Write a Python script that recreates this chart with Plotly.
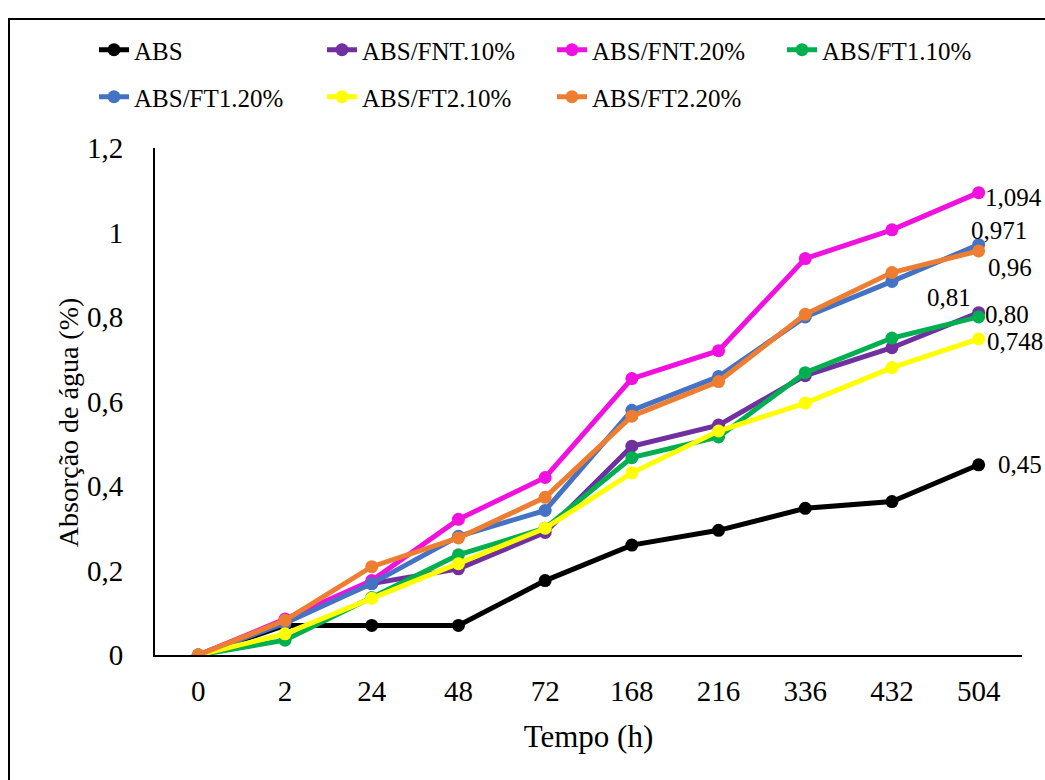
import plotly.graph_objects as go

categories = ["0", "2", "24", "48", "72", "168", "216", "336", "432", "504"]

series_names = ["ABS", "ABS/FNT.10%", "ABS/FNT.20%", "ABS/FT1.10%",
                "ABS/FT1.20%", "ABS/FT2.10%", "ABS/FT2.20%"]

abs_vals   = [0, 0.07, 0.07, 0.07, 0.176, 0.26, 0.295, 0.347, 0.363, 0.45]
fnt10_vals = [0, 0.08, 0.169, 0.204, 0.29, 0.494, 0.544, 0.661, 0.727, 0.81]
fnt20_vals = [0, 0.085, 0.176, 0.321, 0.42, 0.654, 0.72, 0.938, 1.006, 1.094]
ft110_vals = [0, 0.035, 0.136, 0.237, 0.30, 0.467, 0.516, 0.668, 0.75, 0.80]
ft120_vals = [0, 0.075, 0.169, 0.281, 0.342, 0.579, 0.659, 0.80, 0.884, 0.971]
ft210_vals = [0, 0.05, 0.134, 0.216, 0.30, 0.431, 0.53, 0.596, 0.68, 0.748]
ft220_vals = [0, 0.082, 0.209, 0.277, 0.373, 0.565, 0.647, 0.806, 0.905, 0.956]

end_labels = ["0,45", "0,81", "1,094", "0,80", "0,971", "0,748", "0,96"]

colors = ["#000000", "#7030A0", "#F011E0", "#00B050", "#4472C4", "#FFFF00", "#ED7D31"]

all_vals = [abs_vals, fnt10_vals, fnt20_vals, ft110_vals, ft120_vals, ft210_vals, ft220_vals]

# label offsets (px) relative to the last point
label_shifts = [(41, 0), (-30, 15), (35, -5), (28, 2), (20, 14), (36, -3), (31, -17)]

# legend entry positions (px, top-left origin): text start x, row centre y
legend_pos = [(137, 50), (365, 50), (595, 50), (825, 50),
              (137, 97), (365, 97), (595, 97)]

FONT = "Liberation Serif"
W, H = 1045, 780
L, R, T, B = 155, 23, 143, 125
PW, PH = W - L - R, H - T - B

fig = go.Figure()
last_idx = len(categories) - 1
layout_legends = {}
for i, (name, vals, col) in enumerate(zip(series_names, all_vals, colors)):
    lname = "legend" if i == 0 else f"legend{i + 1}"
    fig.add_trace(go.Scatter(
        x=categories, y=vals, name=name, mode="lines+markers",
        line=dict(color=col, width=5),
        marker=dict(color=col, size=13),
        legend=lname,
    ))
    tx, ty = legend_pos[i]
    layout_legends[lname] = dict(
        orientation="h", xref="container", yref="container",
        x=(tx - 43) / W, y=1 - ty / H, xanchor="left", yanchor="middle",
        font=dict(family=FONT, size=25, color="#000000"),
        bgcolor="rgba(0,0,0,0)", itemclick=False, itemdoubleclick=False,
    )
    dx, dy = label_shifts[i]
    fig.add_annotation(x=last_idx, y=vals[-1], xref="x", yref="y",
                       text=end_labels[i], showarrow=False,
                       xshift=dx, yshift=dy,
                       font=dict(family=FONT, size=25, color="#000000"))

# y-axis title (placed like the reference, slightly below the axis centre)
fig.add_annotation(xref="paper", yref="paper",
                   x=(68 - L) / PW, y=(655 - 420) / PH,
                   text="Absorção de água (%)", textangle=-90, showarrow=False,
                   xanchor="center", yanchor="middle",
                   font=dict(family=FONT, size=28, color="#000000"))

fig.update_layout(
    width=W, height=H,
    margin=dict(l=L, r=R, t=T, b=B),
    paper_bgcolor="white", plot_bgcolor="white",
    separators=", ",
    font=dict(family=FONT, size=29, color="#000000"),
    showlegend=True,
    xaxis=dict(
        type="category", categoryorder="array", categoryarray=categories,
        range=[-0.5, 9.5],
        showline=True, linecolor="#000000", linewidth=2,
        showgrid=False, zeroline=False, ticks="",
        tickfont=dict(family=FONT, size=29, color="#000000"),
        ticklabelstandoff=9,
        title=dict(text="Tempo (h)", standoff=20,
                   font=dict(family=FONT, size=31, color="#000000")),
    ),
    yaxis=dict(
        range=[0, 1.2], dtick=0.2, tick0=0,
        showline=True, linecolor="#000000", linewidth=2,
        showgrid=False, zeroline=False, ticks="",
        tickfont=dict(family=FONT, size=29, color="#000000"),
        ticklabelstandoff=24,
    ),
    **layout_legends,
)

# outer frame around the whole chart
fig.add_shape(type="rect", xref="paper", yref="paper",
              x0=(9 - L) / PW, x1=(1060 - L) / PW,
              y0=(655 - 800) / PH, y1=1 + (T - 13) / PH,
              line=dict(color="#000000", width=2), fillcolor="rgba(0,0,0,0)",
              layer="below")

fig.write_html("out.html")
